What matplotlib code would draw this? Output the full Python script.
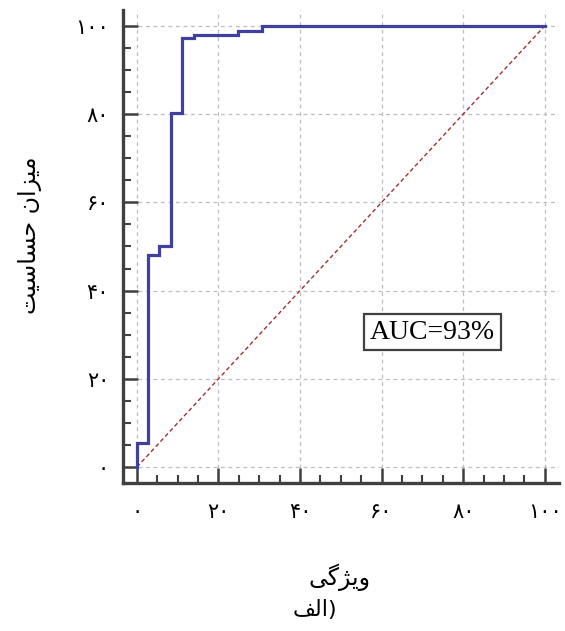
import matplotlib
matplotlib.use("Agg")
import matplotlib.pyplot as plt
from matplotlib.ticker import MultipleLocator

# ROC curve data (percent), step points
fpr = [0, 0, 2.8, 5.5, 8.3, 11.1, 14.0, 24.8, 30.6, 100]
tpr = [0, 5.5, 48.0, 50.0, 80.3, 97.3, 98.0, 98.9, 100, 100]
ref_x = [0, 100]
ref_y = [0, 100]
tick_vals = [0, 20, 40, 60, 80, 100]
tick_labels = ["۰", "۲۰", "۴۰", "۶۰", "۸۰", "۱۰۰"]
auc_text = "AUC=93%"
# Persian labels in visual (pre-shaped) order
xlabel_text = "\uFBFD\uFB94\uFB8B\uFBFE\uFEED"            # ویژگی
ylabel_text = "\uFE96\uFBFF\uFEB3\uFE8E\uFEB4\uFEA3 \uFEE5\uFE8D\uFEB0\uFBFF\uFEE3"  # میزان حساسیت
caption_text = "\uFED2\uFEDF\uFE8D)"                        # الف)

fig = plt.figure(figsize=(5.65, 6.31), dpi=100)
ax = fig.add_axes([123/565, 148/631, 436/565, 473/631])

ax.plot(ref_x, ref_y, color="#a03030", lw=1.0, ls=(0, (3, 2)), zorder=2)
ax.plot(fpr, tpr, drawstyle="steps-post", color="#4040a0", lw=2.3, zorder=3,
        solid_joinstyle="miter")

ax.set_xlim(-3.4, 103.5)
ax.set_ylim(-3.6, 103.6)
ax.set_xticks(tick_vals)
ax.set_xticklabels(tick_labels)
ax.set_yticks(tick_vals)
ax.set_yticklabels(tick_labels)
ax.xaxis.set_minor_locator(MultipleLocator(5))
ax.yaxis.set_minor_locator(MultipleLocator(5))

for s in ["top", "right"]:
    ax.spines[s].set_visible(False)
for s in ["left", "bottom"]:
    ax.spines[s].set_linewidth(2.4)
    ax.spines[s].set_color("#404040")

ax.tick_params(which="major", direction="in", length=11, width=1.8, color="#404040",
               labelsize=15)
ax.tick_params(axis="x", which="major", pad=14)
ax.tick_params(axis="y", which="major", pad=10)
ax.tick_params(which="minor", direction="in", length=5.5, width=1.5, color="#404040")
for lab in ax.get_xticklabels() + ax.get_yticklabels():
    lab.set_fontfamily("DejaVu Sans")

ax.grid(True, which="major", color="#bdbdbd", ls=(0, (3, 3)), lw=0.9, zorder=1)

ax.text(72.5, 30.6, auc_text, fontsize=20, family="Liberation Serif",
        ha="center", va="center", zorder=4,
        bbox=dict(boxstyle="square,pad=0.2", fc="white", ec="#404040", lw=1.6))

fig.text(340/565, 1 - 577/631, xlabel_text, fontsize=17, family="DejaVu Sans",
         ha="center", va="center")
fig.text(30/565, 1 - 235/631, ylabel_text, fontsize=17, family="DejaVu Sans",
         ha="center", va="center", rotation=90)
fig.text(315/565, 1 - 610/631, caption_text, fontsize=16, family="DejaVu Sans",
         ha="center", va="center")

fig.savefig("out.png", dpi=100)
